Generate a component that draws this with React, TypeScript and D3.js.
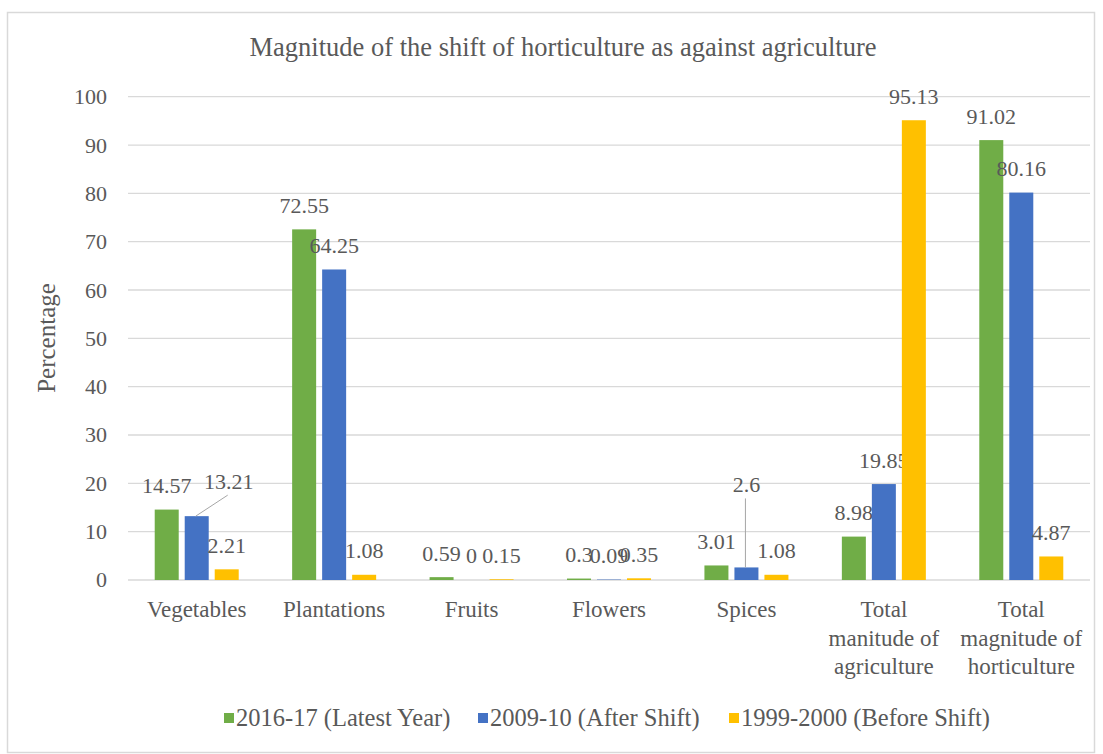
import React from "react";
import * as d3 from "d3";

const categories: string[][] = [
  ["Vegetables"],
  ["Plantations"],
  ["Fruits"],
  ["Flowers"],
  ["Spices"],
  ["Total", "manitude of", "agriculture"],
  ["Total", "magnitude of", "horticulture"],
];
const seriesNames = ["2016-17 (Latest Year)", "2009-10 (After Shift)", "1999-2000 (Before Shift)"];
const latest = [14.57, 72.55, 0.59, 0.3, 3.01, 8.98, 91.02];
const afterShift = [13.21, 64.25, 0, 0.09, 2.6, 19.85, 80.16];
const beforeShift = [2.21, 1.08, 0.15, 0.35, 1.08, 95.13, 4.87];
const yTicks = [0, 10, 20, 30, 40, 50, 60, 70, 80, 90, 100];

const colors = ["#70ad47", "#4472c4", "#ffc000"];
const W = 1103;
const H = 754;
const FONT = "Liberation Serif, Times New Roman, serif";
const TXT = "#595959";

// manual label moves (series index, category index) -> [dx, dy]
const labelMoves: Record<string, [number, number]> = {
  "1-0": [32, -11],
  "1-4": [0, -59],
};

export default function App() {
  const series = [latest, afterShift, beforeShift];
  const catIdx = categories.map((_, i) => String(i));
  const x0 = d3.scaleBand<string>().domain(catIdx).range([128, 1090]).padding(0);
  const bw = x0.bandwidth();
  const x1 = d3
    .scaleBand<string>()
    .domain(["0", "1", "2"])
    .range([bw / 2 - 42, bw / 2 + 42])
    .paddingInner(0.2)
    .paddingOuter(0);
  const y = d3.scaleLinear().domain([0, 100]).range([580, 96.7]);

  const labelFs = 22;
  const catFs = 23;
  const legFs = 24.5;

  return (
    <svg width={W} height={H} style={{ position: "absolute", left: 0, top: 0, fontFamily: FONT }}>
      <rect x={0} y={0} width={W} height={H} fill="#fff" />
      <rect x={7.5} y={12.5} width={1087} height={740} fill="#fff" stroke="#d9d9d9" strokeWidth={1.5} />
      <text x={563} y={56} textAnchor="middle" fontSize={26.5} fill={TXT}>
        Magnitude of the shift of horticulture as against agriculture
      </text>
      {yTicks.map((t) => (
        <g key={t}>
          <line x1={128} x2={1090} y1={y(t)} y2={y(t)} stroke="#d9d9d9" strokeWidth={1.3} />
          <text x={107} y={y(t)} dy="0.34em" textAnchor="end" fontSize={labelFs} fill={TXT}>
            {t}
          </text>
        </g>
      ))}
      <text transform={`translate(55,338) rotate(-90)`} textAnchor="middle" fontSize={25} fill={TXT}>
        Percentage
      </text>
      {series.map((vals, si) =>
        vals.map((v, ci) => {
          const bx = (x0(String(ci)) as number) + (x1(String(si)) as number);
          const cx = bx + x1.bandwidth() / 2;
          const top = y(v);
          const mv = labelMoves[`${si}-${ci}`];
          const lx = cx + (mv ? mv[0] : 0);
          const lcy = top - 24 + (mv ? mv[1] : 0);
          return (
            <g key={`${si}-${ci}`}>
              <rect x={bx} y={top} width={x1.bandwidth()} height={y(0) - top} fill={colors[si]} />
              {mv && (
                <line x1={cx - 1} y1={top} x2={lx - 1} y2={lcy + 14} stroke="#a6a6a6" strokeWidth={1} />
              )}
              <text x={lx} y={lcy} dy="0.34em" textAnchor="middle" fontSize={labelFs} fill={TXT}>
                {v}
              </text>
            </g>
          );
        })
      )}
      {categories.map((lines, ci) => (
        <text key={ci} textAnchor="middle" fontSize={catFs} fill={TXT}>
          {lines.map((l, li) => (
            <tspan key={li} x={(x0(String(ci)) as number) + bw / 2} y={617 + li * 28.5}>
              {l}
            </tspan>
          ))}
        </text>
      ))}
      {seriesNames.map((n, si) => {
        const lxs = [224, 478, 729];
        return (
          <g key={n}>
            <rect x={lxs[si]} y={713} width={10} height={10} fill={colors[si]} />
            <text x={lxs[si] + 12} y={718} dy="0.34em" fontSize={legFs} fill={TXT}>
              {n}
            </text>
          </g>
        );
      })}
    </svg>
  );
}
